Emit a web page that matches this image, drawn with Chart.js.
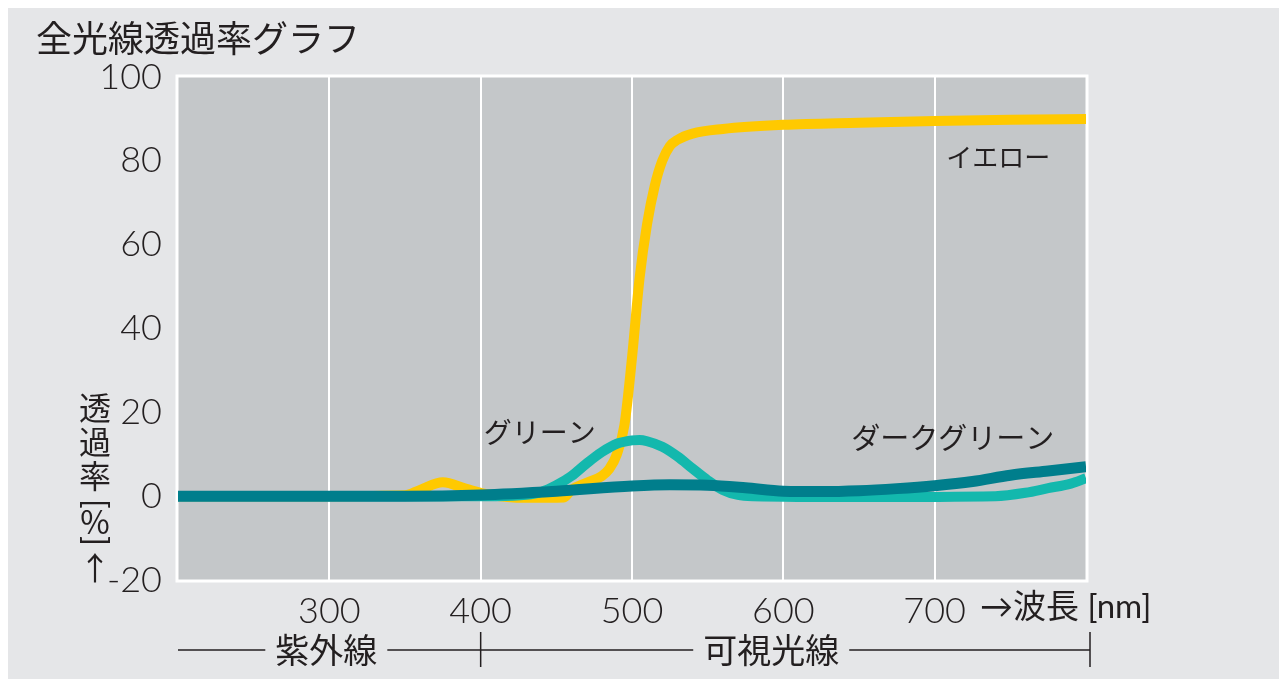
<!DOCTYPE html>
<html lang="ja">
<head>
<meta charset="utf-8">
<title>全光線透過率グラフ</title>
<script src="https://cdn.jsdelivr.net/npm/chart.js@4.4.1/dist/chart.umd.min.js"></script>
<style>
  html, body { margin: 0; padding: 0; background: #fff; }
  #wrap { width: 1288px; height: 688px; }
</style>
</head>
<body>
<div id="wrap"><canvas id="transChart" width="1288" height="688"></canvas></div>
<script>
// data (wavelength nm -> transmittance %)
const yellowNm  = [200, 300, 350, 360, 375, 390, 405, 430, 455, 460, 470, 480, 485, 490, 495, 500, 505, 510, 515, 520, 525, 530, 540, 560, 600, 650, 700, 750, 800];
const yellowPct = [0, 0, 0.2, 1.5, 3.3, 1.8, 0.4, -0.4, -0.3, 1.5, 3.2, 4.8, 6.5, 10, 17, 33, 52, 65, 74, 80, 83.5, 85, 86.5, 87.6, 88.6, 89.1, 89.5, 89.8, 90];

const greenNm  = [200, 300, 410, 430, 440, 450, 460, 470, 480, 490, 500, 505, 510, 520, 530, 540, 550, 560, 570, 580, 650, 740, 760, 775, 790, 800];
const greenPct = [0, 0, 0, 0.3, 1, 2.6, 4.8, 7.8, 10.5, 12.5, 13.3, 13.4, 13.1, 11.8, 9.5, 6.6, 3.8, 1.5, 0.3, 0, -0.2, 0, 0.8, 1.9, 3, 4.3];

const darkNm  = [200, 300, 350, 400, 450, 500, 525, 550, 575, 600, 625, 650, 675, 700, 725, 750, 775, 800];
const darkPct = [0, 0, 0, 0.3, 1.2, 2.4, 2.7, 2.6, 2, 1.2, 1.1, 1.3, 1.8, 2.5, 3.5, 5, 6, 7];

const xTicks = [300, 400, 500, 600, 700];
const yMin = -20, yMax = 100, yStep = 20;

const seriesLabels = [
    { text: 'イエロー', nm: 742, pct: 81, size: 26 },
    { text: 'グリーン', nm: 439, pct: 15.3, size: 28 },
    { text: 'ダークグリーン', nm: 712, pct: 13.8, size: 29 }
];
const bandLabels = [
    { text: '紫外線', nm: 298 },
    { text: '可視光線', nm: 592 }
];

const INK = '#231f20';
const PANEL = '#e5e6e8';
const PLOT_BG = '#c4c7c9';
const JP = '"Noto Sans CJK JP", "Noto Sans", sans-serif';
const NUM = '"Lato", "Noto Sans", "Noto Sans CJK JP", sans-serif';

function pts(xs, ys) {
    return xs.map((x, i) => ({ x: x, y: ys[i] }));
}

const decor = {
    id: 'decor',
    beforeDraw(chart) {
        const ctx = chart.ctx, a = chart.chartArea;
        ctx.save();
        ctx.fillStyle = '#ffffff';
        ctx.fillRect(0, 0, chart.width, chart.height);
        ctx.fillStyle = PANEL;
        ctx.fillRect(8, 8, chart.width - 17, chart.height - 17);
        ctx.fillStyle = PLOT_BG;
        ctx.fillRect(a.left, a.top, a.right - a.left, a.bottom - a.top);
        ctx.restore();
    },
    beforeDatasetsDraw(chart) {
        const ctx = chart.ctx, a = chart.chartArea;
        ctx.save();
        ctx.strokeStyle = '#ffffff';
        ctx.lineWidth = 3;
        ctx.strokeRect(a.left - 1, a.top - 1, a.right - a.left + 2, a.bottom - a.top + 2);
        ctx.restore();
    },
    afterDraw(chart) {
        const ctx = chart.ctx, a = chart.chartArea;
        const xs = chart.scales.x, ys = chart.scales.y;
        ctx.save();
        ctx.fillStyle = INK;

        // title
        ctx.font = '36px ' + JP;
        ctx.textAlign = 'left';
        ctx.textBaseline = 'middle';
        ctx.fillText('全光線透過率グラフ', 36, 38);

        // series labels
        ctx.textAlign = 'center';
        seriesLabels.forEach(l => {
            ctx.font = l.size + 'px ' + JP;
            ctx.fillText(l.text, xs.getPixelForValue(l.nm), ys.getPixelForValue(l.pct));
        });

        // vertical y-axis title (stacked, brackets turned for vertical writing)
        ctx.font = '32px ' + JP;
        [['透', 408], ['過', 442], ['率', 476], ['%', 522], ['↑', 568]].forEach(c => ctx.fillText(c[0], 95, c[1]));
        ctx.font = '32px ' + NUM;
        [['[', 504], [']', 541]].forEach(c => {
            ctx.save();
            ctx.translate(95, c[1]);
            ctx.rotate(Math.PI / 2);
            ctx.fillText(c[0], 0, 0);
            ctx.restore();
        });

        // x unit
        ctx.font = '33px ' + NUM;
        ctx.textAlign = 'left';
        ctx.fillText('→波長 [nm]', 980, 607);

        // bottom band
        const bandY = 650;
        ctx.font = '34px ' + JP;
        ctx.textAlign = 'center';
        ctx.strokeStyle = INK;
        ctx.lineWidth = 1.5;
        const left = a.left, right = a.right + 4;
        const gaps = [];
        bandLabels.forEach(l => {
            const cx = xs.getPixelForValue(l.nm);
            const w = ctx.measureText(l.text).width;
            ctx.fillText(l.text, cx, bandY);
            gaps.push([cx - w / 2 - 10, cx + w / 2 + 10]);
        });
        ctx.beginPath();
        let start = left;
        gaps.forEach(g => {
            ctx.moveTo(start, bandY);
            ctx.lineTo(g[0], bandY);
            start = g[1];
        });
        ctx.moveTo(start, bandY);
        ctx.lineTo(right, bandY);
        const tx = xs.getPixelForValue(400);
        ctx.moveTo(tx, bandY - 18);
        ctx.lineTo(tx, bandY + 17);
        ctx.moveTo(right, bandY - 18);
        ctx.lineTo(right, bandY + 17);
        ctx.stroke();
        ctx.restore();
    }
};

const ctx = document.getElementById('transChart').getContext('2d');
const transChart = new Chart(ctx, {
    type: 'line',
    data: {
        datasets: [
            {
                label: 'ダークグリーン',
                data: pts(darkNm, darkPct),
                borderColor: '#007e8c',
                borderWidth: 11
            },
            {
                label: 'グリーン',
                data: pts(greenNm, greenPct),
                borderColor: '#13b8ad',
                borderWidth: 10
            },
            {
                label: 'イエロー',
                data: pts(yellowNm, yellowPct),
                borderColor: '#ffc900',
                borderWidth: 10
            }
        ]
    },
    options: {
        responsive: false,
        animation: false,
        layout: {
            padding: { top: 77, right: 202, bottom: 0, left: 0 }
        },
        elements: {
            point: { radius: 0 },
            line: { cubicInterpolationMode: 'monotone', fill: false, borderCapStyle: 'butt' }
        },
        datasets: {
            line: { clip: 0 }
        },
        plugins: {
            legend: { display: false },
            tooltip: { enabled: false }
        },
        scales: {
            x: {
                type: 'linear',
                min: 200,
                max: 800,
                afterBuildTicks: function(scale) {
                    scale.ticks = xTicks.map(v => ({ value: v }));
                },
                afterFit: function(scale) {
                    scale.height = 108;
                },
                grid: {
                    color: '#ffffff',
                    lineWidth: 2,
                    drawTicks: false
                },
                border: { display: false },
                ticks: {
                    color: INK,
                    padding: 10,
                    maxRotation: 0,
                    font: { family: NUM, size: 36, weight: '300' }
                }
            },
            y: {
                min: yMin,
                max: yMax,
                afterFit: function(scale) {
                    scale.width = 178;
                },
                grid: { display: false, drawTicks: false },
                border: { display: false },
                ticks: {
                    stepSize: yStep,
                    color: INK,
                    padding: 16,
                    font: { family: NUM, size: 36, weight: '300' }
                }
            }
        }
    },
    plugins: [decor]
});
</script>
</body>
</html>
